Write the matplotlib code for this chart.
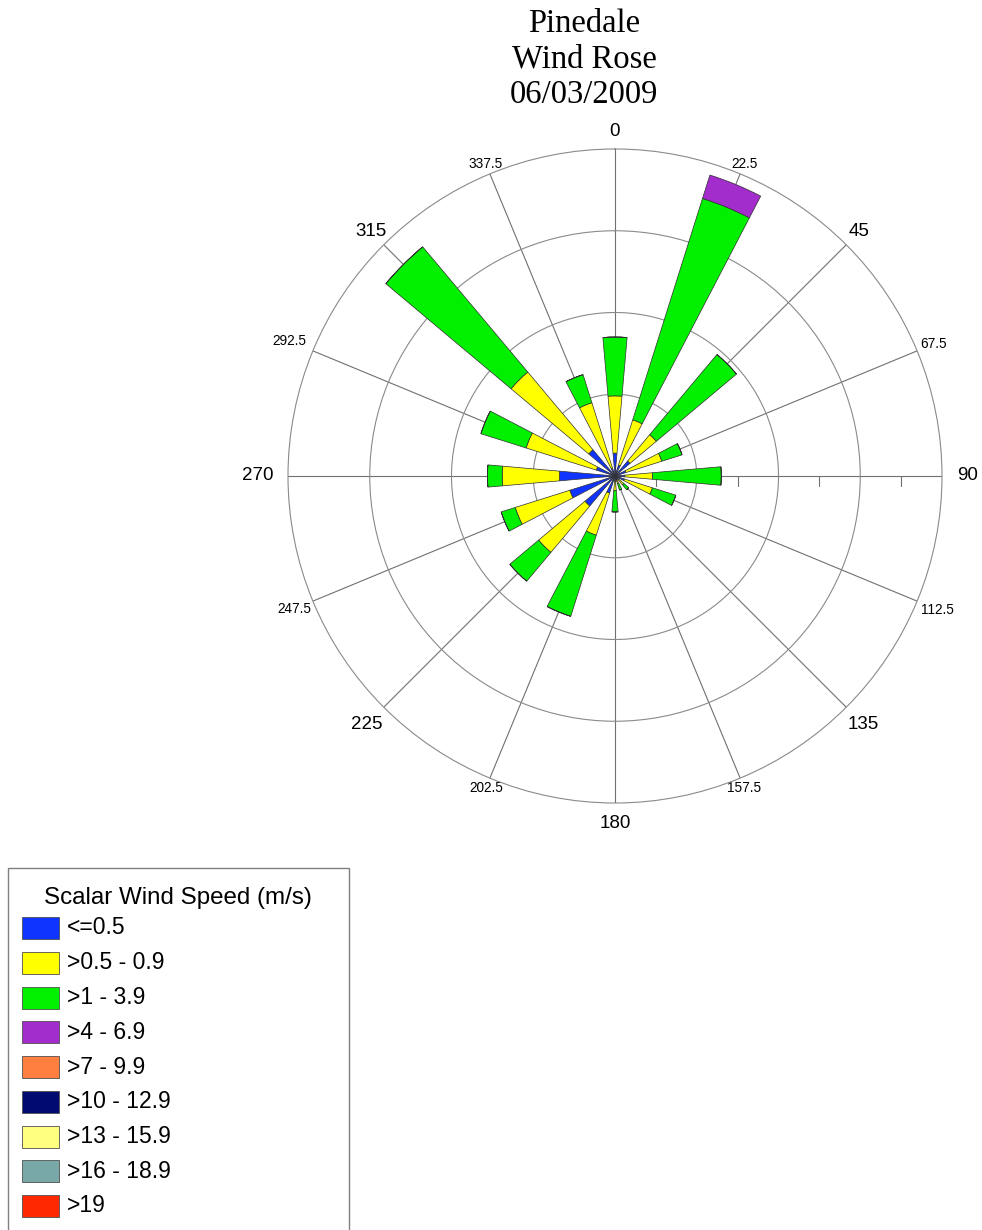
import numpy as np
import matplotlib.pyplot as plt
from matplotlib.patches import Rectangle

# wind directions (deg from north) and speed classes
directions = np.arange(0, 360, 22.5)
direction_labels = ['0', '22.5', '45', '67.5', '90', '112.5', '135', '157.5',
                    '180', '202.5', '225', '247.5', '270', '292.5', '315', '337.5']
speed_classes = ['<=0.5', '>0.5 - 0.9', '>1 - 3.9', '>4 - 6.9', '>7 - 9.9',
                 '>10 - 12.9', '>13 - 15.9', '>16 - 18.9', '>19']
class_colors = ['#1034ff', '#ffff00', '#00f000', '#a32ccc', '#ff7f40',
                '#000a70', '#ffff80', '#78a8a8', '#ff2800']

# frequency (%) per direction for each speed class
freq_le05 = [1.4, 0.7, 1.2, 0.7, 0.6, 0.6, 0.3, 0.2, 0.3, 1.1, 2.4, 2.9, 3.4, 1.2, 2.1, 0.5]
freq_05_09 = [3.5, 2.9, 2.1, 2.3, 1.7, 1.8, 0.4, 0.3, 0.6, 2.7, 3.7, 3.5, 3.5, 4.5, 6.2, 4.2]
freq_1_39 = [3.6, 14.2, 6.4, 1.3, 4.2, 1.5, 0.4, 0.4, 1.3, 5.2, 2.3, 0.9, 0.9, 2.9, 10.0, 1.8]
freq_4_69 = [0, 1.5, 0, 0, 0, 0, 0, 0, 0, 0, 0, 0, 0, 0, 0, 0]
freq_7_99 = [0] * 16
freq_10_129 = [0] * 16
freq_13_159 = [0] * 16
freq_16_189 = [0] * 16
freq_ge19 = [0] * 16

class_freqs = [freq_le05, freq_05_09, freq_1_39, freq_4_69, freq_7_99,
               freq_10_129, freq_13_159, freq_16_189, freq_ge19]
ring_values = [5, 10, 15]
r_max = 20
minor_ticks = [2.5, 7.5, 12.5, 17.5]

W, H = 982, 1230
fig = plt.figure(figsize=(W / 100, H / 100), dpi=100)
plt.rcParams['font.family'] = ['Liberation Sans', 'DejaVu Sans']

# polar axes: centre (615, 476) px, radius 327 px
cx, cy, rad = 615, 476, 327
ax = fig.add_axes([(cx - rad) / W, 1 - (cy + rad) / H, 2 * rad / W, 2 * rad / H],
                  projection='polar')
ax.set_theta_zero_location('N')
ax.set_theta_direction(-1)

theta = np.radians(directions)
bottom = np.zeros(len(directions))
for vals, col in zip(class_freqs, class_colors):
    vals = np.array(vals, dtype=float)
    if vals.sum() > 0:
        ax.bar(theta, vals, width=np.radians(10), bottom=bottom, color=col,
               edgecolor='#303030', linewidth=0.5, zorder=3)
    bottom += vals

ax.set_ylim(0, r_max)
ax.set_rgrids(ring_values, labels=[''] * len(ring_values))
ax.set_thetagrids(directions, direction_labels)
ax.grid(True, color='#8a8a8a', linewidth=0.8)
for gl in ax.xaxis.get_gridlines():
    gl.set_color('#707070')
ax.spines['polar'].set_color('#8a8a8a')
ax.spines['polar'].set_linewidth(0.8)

# labels sit a little further out towards east/west (edge-anchored look)
label_pads = [2, -3, 3, 2.4, 7.8, 5.6, 6.7, -3, 4.2, -3, 7, 4.2, 11.4, 7.8, 3, -3]
for i, (tick, lbl) in enumerate(zip(ax.xaxis.get_major_ticks(), ax.get_xticklabels())):
    lbl.set_fontsize(13.5 if i % 2 == 0 else 9.8)
    tick.set_pad(label_pads[i])

# small radial ticks on the east axis
ax.plot(np.full(len(minor_ticks), np.radians(90)), minor_ticks, linestyle='none',
        marker=3, markersize=7.5, color='#707070', markeredgewidth=0.8, zorder=2)

fig.text(584 / W, 1 - 59 / H, 'Pinedale\nWind Rose\n06/03/2009', ha='center',
         va='center', fontsize=23.5, family='Liberation Serif', linespacing=1.22)

# legend box
fig.patches.append(Rectangle((8 / W, -0.01), 341 / W, 0.01 + 1 - 868 / H,
                             transform=fig.transFigure, facecolor='white',
                             edgecolor='#808080', linewidth=1))
fig.text(178 / W, 1 - 898 / H, 'Scalar Wind Speed (m/s)', ha='center', va='center',
         fontsize=17.4)
for i, (lab, col) in enumerate(zip(speed_classes, class_colors)):
    yc = 928 + i * 34.75
    fig.patches.append(Rectangle((22 / W, 1 - (yc + 11) / H), 37 / W, 22 / H,
                                 transform=fig.transFigure, facecolor=col,
                                 edgecolor='#505050', linewidth=0.6))
    fig.text(67 / W, 1 - yc / H, lab, ha='left', va='center', fontsize=16.5)

fig.savefig('out.png', dpi=100)
